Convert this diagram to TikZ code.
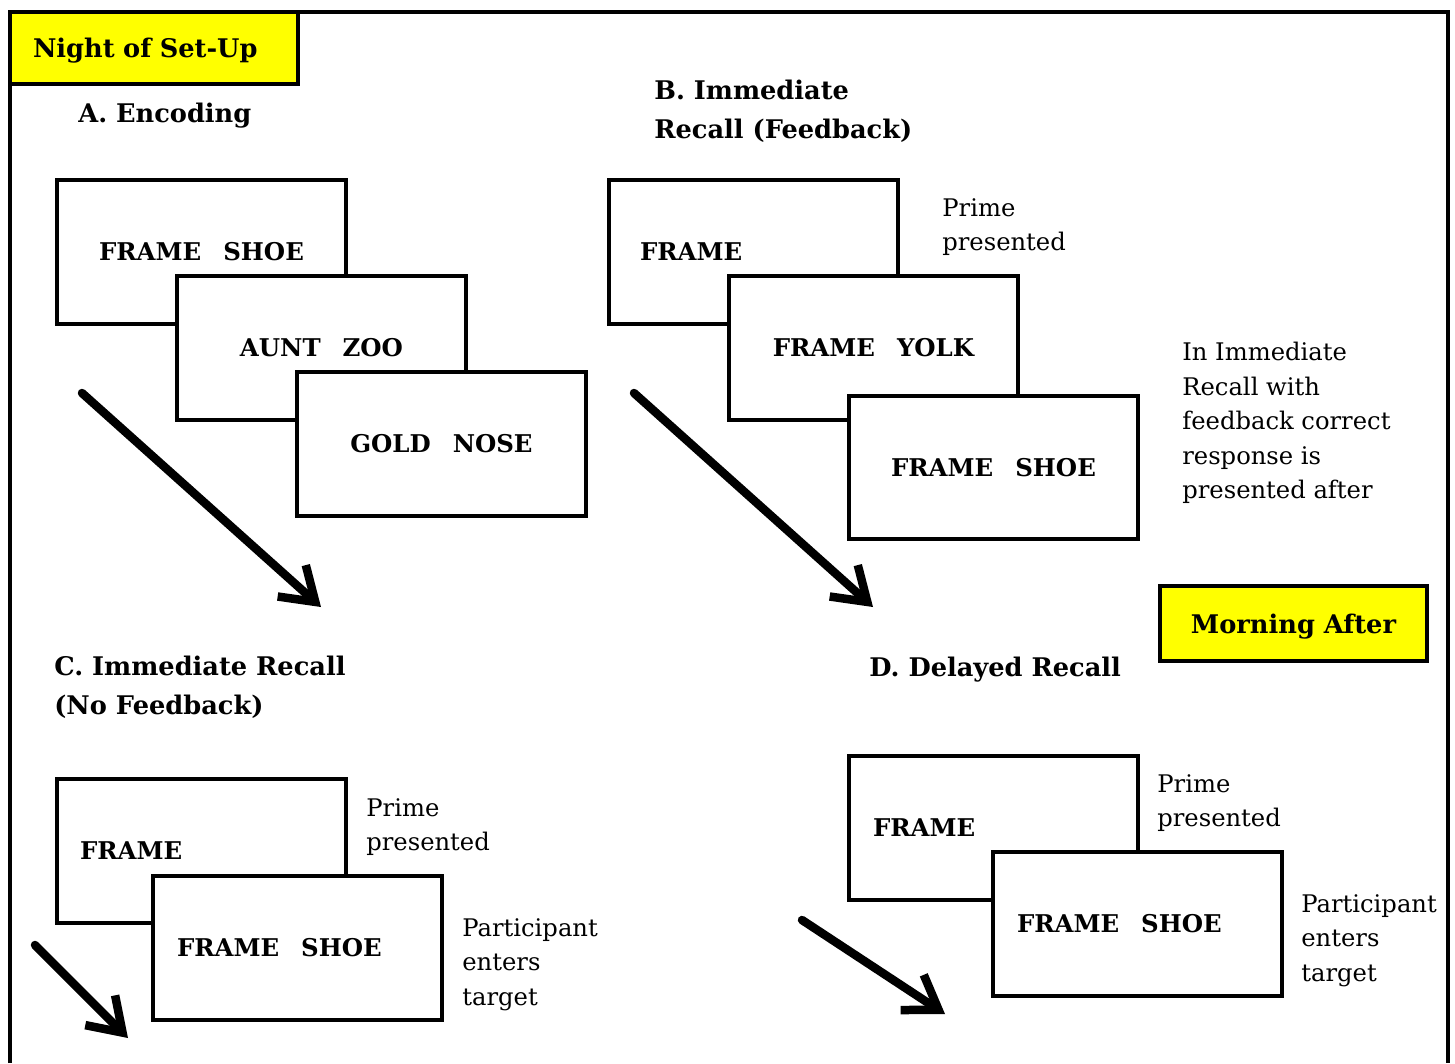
\documentclass[tikz,border=0pt]{standalone}
\usepackage{fontspec}
\setmainfont{DejaVu Serif}
\usetikzlibrary{arrows.meta}
\definecolor{tagyellow}{RGB}{255,255,0}
\newcommand{\wgap}{\hspace{0.9em}}
\tikzset{
  card/.style={draw, line width=0.08cm, fill=white, minimum width=5.78cm, minimum height=2.88cm,
    inner sep=0pt, font=\fontsize{13.9}{16}\selectfont\bfseries},
  leftcard/.style={card, text width=#1, align=left},
  headtxt/.style={font=\fontsize{14.6}{22.1}\selectfont\bfseries, inner sep=0pt, align=left},
  notetxt/.style={font=\fontsize{13.8}{19.6}\selectfont, inner sep=0pt, align=left},
  tagbox/.style={draw, line width=0.08cm, fill=tagyellow, text depth=0pt,
    font=\fontsize{14.6}{16}\selectfont\bfseries},
  flow/.style={line width=0.17cm, line cap=round, line join=round,
    -{Straight Barb[length=18pt, width=24pt]}}
}
\begin{document}
\begin{tikzpicture}[x=0.02cm, y=-0.02cm]
    \useasboundingbox (0,0) rectangle (1455,1063);

    % Outer frame, open at the bottom
    \draw[line width=0.08cm] (10,1063) -- (10,12) -- (1448,12) -- (1448,1063);

    % Session tags
    \node[tagbox, minimum width=5.76cm, minimum height=1.43cm, text width=4.84cm,
      inner xsep=0.46cm, align=left] (night) at (154,48) {Night of Set-Up};
    \node[tagbox, minimum width=5.34cm, minimum height=1.5cm] (morning) at (1293.5,623.5) {Morning After};

    % Phase headings
    \node[headtxt, anchor=base west] (encA) at (78,122) {A. Encoding};
    \node[headtxt, anchor=north west] (recB) at (654,80) {B. Immediate\\Recall (Feedback)};
    \node[headtxt, anchor=north west] (recC) at (54,656) {C. Immediate Recall\\(No Feedback)};
    \node[headtxt, anchor=base west] (recD) at (869,676) {D. Delayed Recall};

    % A: encoding cards
    \node[card] (a1) at (201.5,252) {FRAME\wgap SHOE};
    \node[card] (a2) at (321.5,348) {AUNT\wgap ZOO};
    \node[card] (a3) at (441.5,444) {GOLD\wgap NOSE};

    % B: recall with feedback
    \node[leftcard=4.54cm] (b1) at (753.5,252) {FRAME};
    \node[card] (b2) at (873.5,348) {FRAME\wgap YOLK};
    \node[card] (b3) at (993.5,467.5) {FRAME\wgap SHOE};

    % C: recall without feedback
    \node[leftcard=4.86cm] (c1) at (201.5,851) {FRAME};
    \node[leftcard=4.82cm] (c2) at (297.5,947.5) {FRAME\wgap SHOE};

    % D: delayed recall
    \node[leftcard=4.82cm] (d1) at (993.5,827.5) {FRAME};
    \node[leftcard=4.82cm] (d2) at (1137.5,923.5) {FRAME\wgap SHOE};

    % Side notes
    \node[notetxt, anchor=north west] (primeB) at (942,198) {Prime\\presented};
    \node[notetxt, anchor=north west] (primeC) at (366,798) {Prime\\presented};
    \node[notetxt, anchor=north west] (primeD) at (1157,774) {Prime\\presented};
    \node[notetxt, anchor=north west] (fbNote) at (1182,342)
      {In Immediate\\Recall with\\feedback correct\\response is\\presented after};
    \node[notetxt, anchor=north west] (entC) at (462,918) {Participant\\enters\\target};
    \node[notetxt, anchor=north west] (entD) at (1301,894) {Participant\\enters\\target};

    % Sequence arrows
    \coordinate (aFrom) at (82,393);
    \coordinate (aTo) at (321,607);
    \coordinate (bFrom) at (634,393);
    \coordinate (bTo) at (873,607);
    \coordinate (cFrom) at (35,945);
    \coordinate (cTo) at (128,1038);
    \coordinate (dFrom) at (802,920);
    \coordinate (dTo) at (945,1014);
    \draw[flow] (aFrom) -- (aTo);
    \draw[flow] (bFrom) -- (bTo);
    \draw[flow] (cFrom) -- (cTo);
    \draw[flow] (dFrom) -- (dTo);
\end{tikzpicture}
\end{document}
